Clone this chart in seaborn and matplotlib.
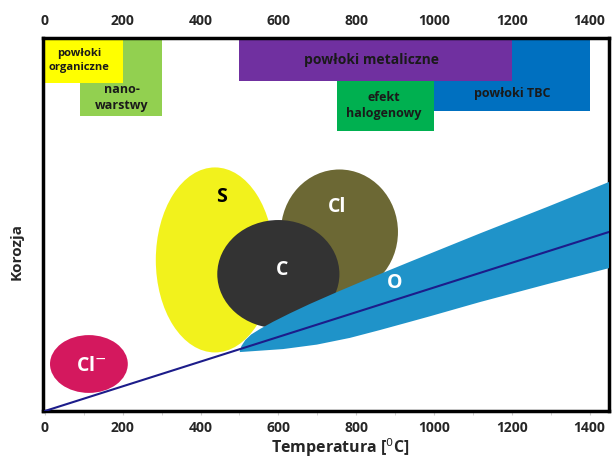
import matplotlib
matplotlib.use("Agg")
import matplotlib.pyplot as plt
from matplotlib.patches import Ellipse
import seaborn as sns
import numpy as np

sns.set_style("white")
plt.rcParams['font.family'] = ['Open Sans', 'DejaVu Sans']

# --- coating ranges (top boxes) ---
box_labels = ["powłoki\norganiczne", "nano-\nwarstwy", "powłoki metaliczne", "powłoki TBC", "efekt\nhalogenowy"]
box_xmin = [0, 90, 500, 1000, 750]
box_xmax = [200, 300, 1200, 1400, 1000]
box_ymin = [88, 79, 88.5, 80.5, 75]
box_ymax = [100, 100, 100, 100, 88.5]
box_colors = ["#FFFF00", "#92D050", "#7030A0", "#0070C0", "#00B050"]
box_text_x = [88, 198, 839, 1202, 872]
box_text_y = [94, 84, 94, 85, 82]
box_fs = [8, 9, 10, 9, 9]
box_order = [1, 0, 3, 2, 4]   # drawing order

# --- corrosion mechanisms (ellipses) ---
ell_labels = ["S", "Cl", "C", "Cl$^{-}$"]
ell_cx = [437, 757, 600, 113]
ell_cy = [40.5, 48, 36.7, 12.6]
ell_w = [304, 301, 314, 200]
ell_h = [49.6, 33.5, 29, 15.5]
ell_colors = ["#F2F21C", "#6C6834", "#333333", "#D4185E"]
ell_text_col = ["black", "white", "white", "white"]
ell_tx = [453, 751, 610, 118]
ell_ty = [57.4, 54.7, 37.8, 12]

# --- oxidation band O (upper and lower edge) ---
upper_x = [501, 505, 515, 530, 553, 586, 630, 681, 751, 828, 938, 1118, 1291, 1450]
upper_y = [16.1, 17.4, 19.0, 20.5, 22.0, 23.9, 26.2, 28.7, 31.9, 35.3, 40.0, 47.6, 54.7, 61.4]
lower_x = [501, 612, 699, 784, 861, 938, 990, 1118, 1291, 1450]
lower_y = [15.8, 16.6, 17.8, 19.6, 21.7, 23.9, 25.4, 29.2, 34.0, 38.3]

# --- trend line ---
line_x = [0, 1450]
line_y = [0, 48]

xticks = [0, 200, 400, 600, 800, 1000, 1200, 1400]

fig = plt.figure(figsize=(6.12, 4.59), dpi=100)
ax = fig.add_axes([43/612, 1-411/459, 566/612, 373/459])
ax.set_xlim(-5, 1450)
ax.set_ylim(0, 100)

for i in box_order:
    ax.bar(box_xmin[i], box_ymax[i]-box_ymin[i], width=box_xmax[i]-box_xmin[i],
           bottom=box_ymin[i], align='edge', color=box_colors[i], edgecolor='none', zorder=2)
for i in range(len(box_labels)):
    ax.text(box_text_x[i], box_text_y[i], box_labels[i], ha='center', va='center',
            fontsize=box_fs[i], fontweight='bold', color='#1a1a1a', zorder=6, linespacing=1.3)

for i in range(len(ell_labels)):
    e = Ellipse((ell_cx[i], ell_cy[i]), ell_w[i], ell_h[i], facecolor=ell_colors[i],
                edgecolor='none', zorder=3 + (1 if i == 2 else 0))
    ax.add_patch(e)

poly_x = list(upper_x) + list(lower_x[::-1])
poly_y = list(upper_y) + list(lower_y[::-1])
ax.fill(poly_x, poly_y, color="#1F93C9", linewidth=0, zorder=5)
sns.lineplot(x=line_x, y=line_y, color="#1C1C8A", linewidth=1.5, ax=ax, zorder=6)
ax.text(898, 34.3, "O", ha='center', va='center', fontsize=14, fontweight='bold', color='white', zorder=7)

for i in range(len(ell_labels)):
    ax.text(ell_tx[i], ell_ty[i], ell_labels[i], ha='center', va='center', fontsize=14,
            fontweight='bold', color=ell_text_col[i], zorder=7)

ax.set_xticks(xticks)
ax.set_xticklabels([str(t) for t in xticks], fontweight='bold', fontsize=10)
ax.set_xticks(np.arange(100, 1450, 200), minor=True)
ax.tick_params(axis='x', which='both', bottom=True, top=False, labeltop=True,
               length=3, color='#cccccc', pad=4)
ax.set_yticks([])
for s in ax.spines.values():
    s.set_visible(True)
    s.set_color('black')
    s.set_linewidth(2.5)

ax.set_xlabel("Temperatura [$^{0}$C]", fontsize=11.5, fontweight='bold')
ax.xaxis.set_label_coords((340-43)/566, -0.068)
ax.set_ylabel("Korozja", fontsize=11, fontweight='bold')
ax.yaxis.set_label_coords(-0.034, (411-252)/373)

fig.savefig("out.png", dpi=100)
